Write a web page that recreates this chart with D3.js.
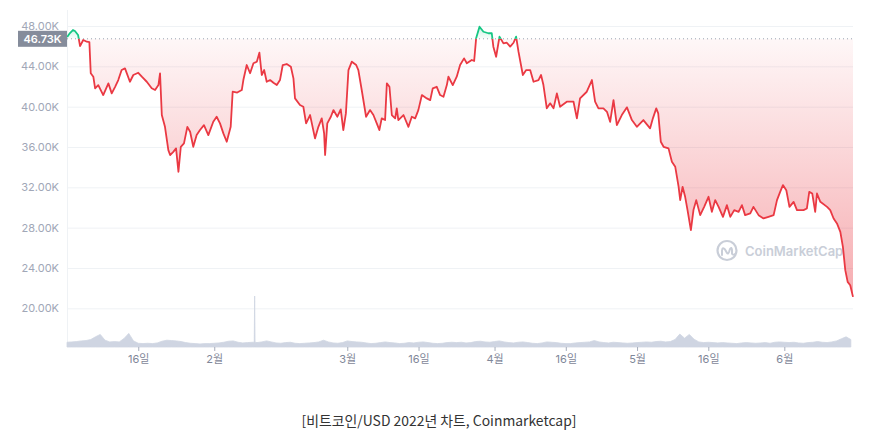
<!DOCTYPE html>
<html>
<head>
<meta charset="utf-8">
<script src="https://cdn.jsdelivr.net/npm/d3@7"></script>
<style>
  html, body { margin: 0; padding: 0; background: #ffffff; }
  svg { display: block; }
</style>
</head>
<body>
<svg id="chart" width="893" height="441"></svg>
<script>
// ---------------- DATA ----------------
const baselineValue = 46730;
const baselineLabel = "46.73K";

const priceTimes = [
"01-01T01","01-01T15","01-02T06","01-02T16","01-03T08","01-03T18","01-04T10","01-05T04","01-05T17","01-06T00",
"01-06T13","01-06T22","01-07T14","01-08T15","01-09T17","01-10T10","01-11T03","01-11T19","01-12T12","01-13T05",
"01-14T06","01-14T23","01-16T00","01-16T18","01-17T19","01-18T20","01-19T13","01-20T06","01-20T14","01-20T23",
"01-21T15","01-22T08","01-22T17","01-23T09","01-23T23","01-24T11","01-24T23","01-25T15","01-26T08","01-26T22",
"01-27T14","01-28T07","01-29T00","01-29T20","01-30T18","01-31T19","02-01T12","02-02T05","02-02T22","02-03T15",
"02-04T11","02-04T21","02-05T20","02-06T19","02-07T03","02-07T20","02-08T13","02-09T06","02-09T23","02-10T12",
"02-11T00","02-11T12","02-12T01","02-12T18","02-13T11","02-14T04","02-14T20","02-15T10","02-16T06","02-17T03",
"02-17T16","02-18T00","02-19T01","02-19T18","02-20T08","02-21T04","02-21T13","02-22T05","02-22T22","02-23T15",
"02-24T03","02-24T08","02-24T19","02-25T13","02-26T02","02-26T22","02-27T15","02-28T04","02-28T17","03-01T06",
"03-01T23","03-02T21","03-03T08","03-04T01","03-04T23","03-05T19","03-06T12","03-07T05","03-07T18","03-08T06",
"03-08T23","03-09T08","03-09T21","03-10T09","03-11T02","03-11T10","03-11T18","03-12T20","03-13T21","03-14T14",
"03-15T07","03-15T23","03-16T17","03-17T18","03-18T11","03-19T00","03-19T20","03-20T13","03-21T06","03-21T23",
"03-22T07","03-23T05","03-24T01","03-24T18","03-25T14","03-26T04","03-27T05","03-27T17","03-28T03","03-28T20",
"03-29T16","03-30T17","03-31T10","03-31T18","04-01T08","04-02T01","04-02T21","04-03T14","04-04T07","04-05T00",
"04-05T13","04-06T01","04-06T23","04-07T16","04-08T12","04-09T05","04-10T06","04-10T19","04-11T07","04-12T00",
"04-12T17","04-13T10","04-14T03","04-14T19","04-16T05","04-17T15","04-18T08","04-19T00","04-20T10","04-21T12",
"04-22T04","04-22T21","04-23T22","04-24T16","04-25T08","04-26T01","04-26T18","04-27T19","04-28T21","04-29T22",
"04-30T23","05-01T16","05-02T08","05-03T18","05-04T08","05-05T01","05-05T11","05-06T00","05-06T14","05-07T15",
"05-08T08","05-09T01","05-09T18","05-10T02","05-10T14","05-11T03","05-11T15","05-12T08","05-12T21","05-13T11",
"05-14T07","05-15T03","05-16T01","05-16T18","05-17T11","05-18T04","05-19T02","05-19T22","05-20T15","05-21T11",
"05-22T09","05-23T02","05-23T18","05-24T20","05-25T12","05-26T14","05-27T15","05-28T16","05-29T18","05-30T11",
"05-31T03","05-31T17","06-01T10","06-02T02","06-02T23","06-03T16","06-05T01","06-05T18","06-06T06","06-06T21",
"06-07T12","06-07T21","06-08T14","06-10T00","06-10T16","06-11T09","06-12T02","06-12T19","06-13T08","06-13T20",
"06-14T08","06-14T21","06-15T11"
];

const prices = [
46910,47300,47600,47500,47110,46010,46610,46440,46410,43310,
42970,41820,42140,41150,42310,41320,41970,42640,43630,43800,
42470,43140,43360,42970,42470,41820,41650,42140,43310,39170,
38000,35690,35200,35520,35860,33540,36020,36360,38000,37510,
36020,37180,37680,38170,37180,38500,39000,38340,37350,36520,
38000,41480,41400,41650,42640,44130,43310,44300,44460,45350,
43140,43630,42470,42640,42370,42140,42640,44130,44230,43960,
42810,40820,40160,39990,38340,39170,38340,36850,38000,38840,
37350,35200,38340,39000,39660,39000,39730,37680,39330,43630,
44460,44130,43630,41650,39000,39660,39170,38340,37680,38840,
38670,42310,41970,39170,38840,39830,38670,39170,38000,39000,
38840,39660,41150,40820,40650,41820,41970,41150,40980,42140,
42970,42140,42970,44130,44790,44300,44630,44530,46780,47930,
47430,47280,47280,45950,44950,46940,46280,46340,45950,46340,
46940,45450,43140,43630,43630,42470,42640,43140,42140,39830,
40330,39830,41320,39990,40490,40490,38840,40820,41480,42640,
40490,39830,39830,39490,38500,40650,38170,39170,39930,38670,
38000,38340,38670,37850,38840,39830,39330,36520,36020,35860,
34530,34030,32050,30730,32050,31060,29740,27750,29740,30730,
29240,30060,31060,29570,30730,30060,29070,30230,29070,29740,
29570,30230,29240,29410,30060,29240,28910,29070,29240,30730,
31550,32220,31720,30060,30560,29740,29740,29900,31550,31390,
29570,31390,30560,30060,29740,28910,28420,27580,26090,23780,
22620,22290,21130
];

// daily volume (billion USD), starting 2022-01-01
const volumeStart = "2022-01-01T00";
const dailyVolume = [
28,30,32,36,38,44,60,74,40,30,
32,30,50,80,36,22,20,22,20,24,
34,40,38,36,32,26,22,20,18,20,
20,22,24,28,34,36,28,24,26,28,
26,30,36,30,24,22,26,28,22,20,
22,24,26,30,40,30,24,22,26,36,
32,30,28,24,20,22,26,30,26,24,
20,22,26,24,28,30,26,22,20,22,
26,28,26,28,24,26,32,34,30,28,
32,36,30,26,24,28,30,26,22,20,
24,30,28,26,22,20,20,24,26,28,
30,38,30,26,24,28,26,24,22,24,
26,28,30,28,32,34,30,32,44,76,
52,74,46,30,26,28,26,24,26,24,
22,20,24,26,24,22,24,26,22,28,
30,28,26,28,24,22,26,28,32,28,
26,30,36,48,60,44
];
const volumeSpikeTimes = ["2022-02-09T10","2022-02-09T12","2022-02-09T14"];
const volumeSpikeValues = [28, 300, 28];

const yTickValues = [20000, 24000, 28000, 32000, 36000, 40000, 44000, 48000];
const xTickDates = ["2022-01-16","2022-02-01","2022-03-01","2022-03-16","2022-04-01",
                    "2022-04-16","2022-05-01","2022-05-16","2022-06-01"];

const captionText = "[비트코인/USD 2022년 차트, Coinmarketcap]";

// ---------------- BUILD ----------------
const parseT = d3.timeParse("%Y-%m-%dT%H");
const parseD = d3.timeParse("%Y-%m-%d");
const priceData = priceTimes.map((t, i) => ({ t: parseT("2022-" + t), v: prices[i] }));

const vStart = parseT(volumeStart);
let volData = dailyVolume.map((v, i) => ({ t: d3.timeDay.offset(vStart, i), v }));
volumeSpikeTimes.forEach((t, i) => volData.push({ t: parseT(t), v: volumeSpikeValues[i] }));
volData.sort((a, b) => a.t - b.t);

const left = 67, right = 853;
const x = d3.scaleTime()
  .domain([parseT("2022-01-01T00"), priceData[priceData.length - 1].t])
  .range([left, right]);
const y = d3.scaleLinear().domain([20000, 48000]).range([308.3, 26]);
const yVol = d3.scaleLinear().domain([0, 300]).range([347, 296]);

const svg = d3.select("#chart");
const defs = svg.append("defs");
const yBase = y(baselineValue);

const red = "#ea3943", green = "#16c784";

const gradR = defs.append("linearGradient").attr("id", "gradRed")
  .attr("gradientUnits", "userSpaceOnUse").attr("x1", 0).attr("x2", 0)
  .attr("y1", yBase).attr("y2", y(21000));
gradR.append("stop").attr("offset", 0).attr("stop-color", red).attr("stop-opacity", 0.04);
gradR.append("stop").attr("offset", 1).attr("stop-color", red).attr("stop-opacity", 0.42);

const gradG = defs.append("linearGradient").attr("id", "gradGreen")
  .attr("gradientUnits", "userSpaceOnUse").attr("x1", 0).attr("x2", 0)
  .attr("y1", yBase).attr("y2", y(48500));
gradG.append("stop").attr("offset", 0).attr("stop-color", green).attr("stop-opacity", 0.03);
gradG.append("stop").attr("offset", 1).attr("stop-color", green).attr("stop-opacity", 0.3);

defs.append("clipPath").attr("id", "clipBelow").append("rect")
  .attr("x", 0).attr("y", yBase).attr("width", 893).attr("height", 441);
defs.append("clipPath").attr("id", "clipAbove").append("rect")
  .attr("x", 0).attr("y", 0).attr("width", 893).attr("height", yBase);

// gridlines
const grid = svg.append("g").attr("transform", `translate(${left},0)`)
  .call(d3.axisRight(y).tickValues(yTickValues).tickSize(right - left).tickFormat(""));
grid.select(".domain").remove();
grid.selectAll("line").attr("stroke", "#eff2f5").attr("stroke-width", 1);

// left vertical axis line
svg.append("line").attr("x1", left + 0.5).attr("x2", left + 0.5)
  .attr("y1", 10).attr("y2", 347).attr("stroke", "#eff2f5").attr("stroke-width", 1);

// y labels
const yAxis = svg.append("g").attr("transform", `translate(${left},0)`)
  .call(d3.axisLeft(y).tickValues(yTickValues).tickSize(0).tickPadding(8)
    .tickFormat(d => (d / 1000).toFixed(2) + "K"));
yAxis.select(".domain").remove();
yAxis.selectAll("text").attr("fill", "#a1a7b7")
  .style("font-family", "Inter, Roboto, sans-serif").style("font-size", "11px");

// watermark
const wm = svg.append("g").attr("transform", "translate(727,250.5)");
wm.append("circle").attr("r", 9.5).attr("fill", "none").attr("stroke", "#c9ced8").attr("stroke-width", 2.2);
wm.append("path").attr("d", "M-5,4.5 L-5,0 Q-4.5,-4 -2,-1 L0,2.5 Q1,4 2,1.5 L3,-1.5 Q4.5,-4 5,-0.5 L5,3 Q5.5,5 8,3.5")
  .attr("fill", "none").attr("stroke", "#c9ced8").attr("stroke-width", 2).attr("stroke-linejoin", "round").attr("stroke-linecap", "round");
svg.append("text").attr("x", 745).attr("y", 255.5).text("CoinMarketCap")
  .attr("fill", "#c9ced8").style("font-family", "Inter, sans-serif")
  .style("font-size", "13px").style("font-weight", 600);

// volume area
svg.append("path").datum(volData)
  .attr("d", d3.area().x(d => x(d.t)).y0(yVol(0)).y1(d => yVol(d.v)))
  .attr("fill", "#cfd5e2").attr("stroke", "#cfd5e2").attr("stroke-width", 0.8);

// price areas
const areaGen = d3.area().x(d => x(d.t)).y0(yBase).y1(d => y(d.v));
svg.append("path").datum(priceData).attr("d", areaGen)
  .attr("fill", "url(#gradRed)").attr("clip-path", "url(#clipBelow)");
svg.append("path").datum(priceData).attr("d", areaGen)
  .attr("fill", "url(#gradGreen)").attr("clip-path", "url(#clipAbove)");

// baseline dotted line
svg.append("line").attr("x1", left).attr("x2", right).attr("y1", yBase).attr("y2", yBase)
  .attr("stroke", "#9aa1b0").attr("stroke-width", 1).attr("stroke-dasharray", "1,3");

// price line
const lineGen = d3.line().x(d => x(d.t)).y(d => y(d.v));
svg.append("path").datum(priceData).attr("d", lineGen)
  .attr("fill", "none").attr("stroke", red).attr("stroke-width", 1.8)
  .attr("stroke-linejoin", "round").attr("clip-path", "url(#clipBelow)");
svg.append("path").datum(priceData).attr("d", lineGen)
  .attr("fill", "none").attr("stroke", green).attr("stroke-width", 1.8)
  .attr("stroke-linejoin", "round").attr("clip-path", "url(#clipAbove)");

// baseline label
svg.append("rect").attr("x", 18).attr("y", yBase - 8).attr("width", left - 18).attr("height", 16)
  .attr("fill", "#858c9b");
svg.append("text").attr("x", (18 + left) / 2).attr("y", yBase).attr("dy", "0.35em")
  .attr("text-anchor", "middle").attr("fill", "#ffffff").text(baselineLabel)
  .style("font-family", "Inter, Roboto, sans-serif").style("font-size", "11px").style("font-weight", 600);

// x axis
const xAxis = svg.append("g").attr("transform", "translate(0,347)")
  .call(d3.axisBottom(x).tickValues(xTickDates.map(parseD)).tickSize(4).tickPadding(4)
    .tickFormat(d => d.getDate() === 1 ? (d.getMonth() + 1) + "월" : d.getDate() + "일"));
xAxis.select(".domain").remove();
xAxis.selectAll("line").attr("stroke", "#a6adbb");
xAxis.selectAll("text").attr("fill", "#7f8799")
  .style("font-family", "Inter, 'Noto Sans CJK KR', sans-serif").style("font-size", "11px");

// caption
svg.append("text").attr("x", 439).attr("y", 426).attr("text-anchor", "middle")
  .text(captionText).attr("fill", "#333333")
  .style("font-family", "'Noto Sans CJK KR', sans-serif").style("font-size", "13.9px");
</script>
</body>
</html>
